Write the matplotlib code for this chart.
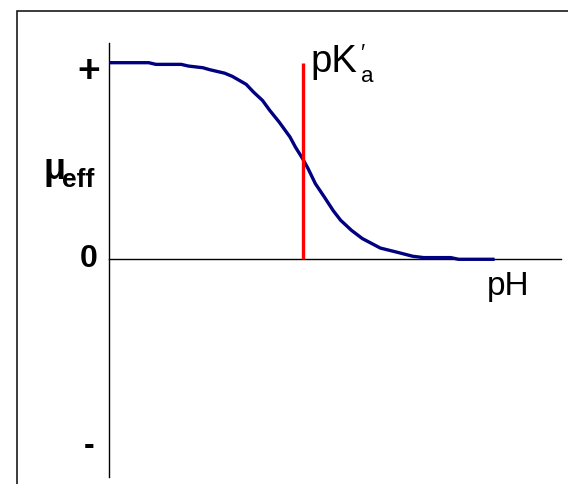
import matplotlib
matplotlib.use("Agg")
import matplotlib.pyplot as plt
from matplotlib.patches import Rectangle

# Data (arbitrary pH units; mobility scaled so "+" = 1)
ph = [0, 0.87, 1.03, 1.59, 1.75, 2.07, 2.23, 2.55, 2.72, 3.03, 3.19, 3.39, 3.55,
      3.76, 4.00, 4.12, 4.28, 4.40, 4.56, 4.76, 4.96, 5.12, 5.36, 5.60, 6.00,
      6.40, 6.72, 6.96, 7.56, 7.73, 8.53]
mu_eff = [1.052, 1.052, 1.043, 1.043, 1.034, 1.025, 1.014, 0.996, 0.979, 0.936,
          0.895, 0.850, 0.797, 0.734, 0.654, 0.600, 0.538, 0.485, 0.405, 0.333,
          0.259, 0.209, 0.155, 0.111, 0.060, 0.036, 0.016, 0.009, 0.009, 0.0, 0.0]
pka = 4.28
ytick_vals = [1, 0, -1]
ytick_labels = ["+", "0", "-"]

W, H = 568, 484
fig = plt.figure(figsize=(W / 100, H / 100), dpi=100)
fig.patch.set_facecolor("white")

# outer frame
fig.patches.append(Rectangle((17 / W, -0.05), 1.2, 1 - 11.5 / H + 0.05,
                             transform=fig.transFigure, fill=False,
                             edgecolor="#1a1a1a", linewidth=1.2, zorder=0))

ax_left, ax_right = 109.4 / W, 561 / W
ax_top, ax_bot = 1 - 43.3 / H, 1 - 477 / H
ax = fig.add_axes([ax_left, ax_bot, ax_right - ax_left, ax_top - ax_bot])
ax.set_facecolor("none")

ax.set_xlim(0, 10)
ax.set_ylim(-1.165, 1.052 + (62.7 - 43.3) / 187)

for s in ["top", "right"]:
    ax.spines[s].set_visible(False)
ax.spines["bottom"].set_position(("data", 0))
ax.spines["left"].set_linewidth(1.0)
ax.spines["bottom"].set_linewidth(1.0)
ax.set_xticks([])
ax.set_yticks([])

ax.plot(ph, mu_eff, color="#000080", linewidth=2.4, solid_capstyle="butt", zorder=3)
ax.plot([pka, pka], [0, mu_eff[0]], color="#ff0000", linewidth=2.4,
        solid_capstyle="butt", zorder=4)

fam = ["Liberation Sans", "DejaVu Sans"]

# y tick-like labels
sizes = {"+": 28, "0": 23, "-": 23}
for v, lab in zip(ytick_vals, ytick_labels):
    ax.text(-0.45, v, lab, fontsize=sizes[lab], fontweight="bold",
            family=fam, ha="center", va="center", transform=ax.transData)

# mu_eff label
fig.text(43 / W, 1 - 179 / H, "μ", fontsize=26, fontweight="bold", family=fam,
         ha="left", va="baseline")
fig.text(62 / W, 1 - 187 / H, "eff", fontsize=19, fontweight="bold", family=fam,
         ha="left", va="baseline")

# pK'a label
fig.text(310 / W, 1 - 72 / H, "pK", fontsize=27.5, family=fam, ha="left", va="baseline")
fig.text(361 / W, 1 - 82 / H, "a", fontsize=16, family=fam, ha="left", va="baseline")
fig.text(360 / W, 1 - 59 / H, "′", fontsize=16, family=fam, ha="left", va="baseline")

# pH label
fig.text(486.5 / W, 1 - 295 / H, "pH", fontsize=24, family=fam, ha="left", va="baseline")

fig.savefig("out.png", dpi=100)
